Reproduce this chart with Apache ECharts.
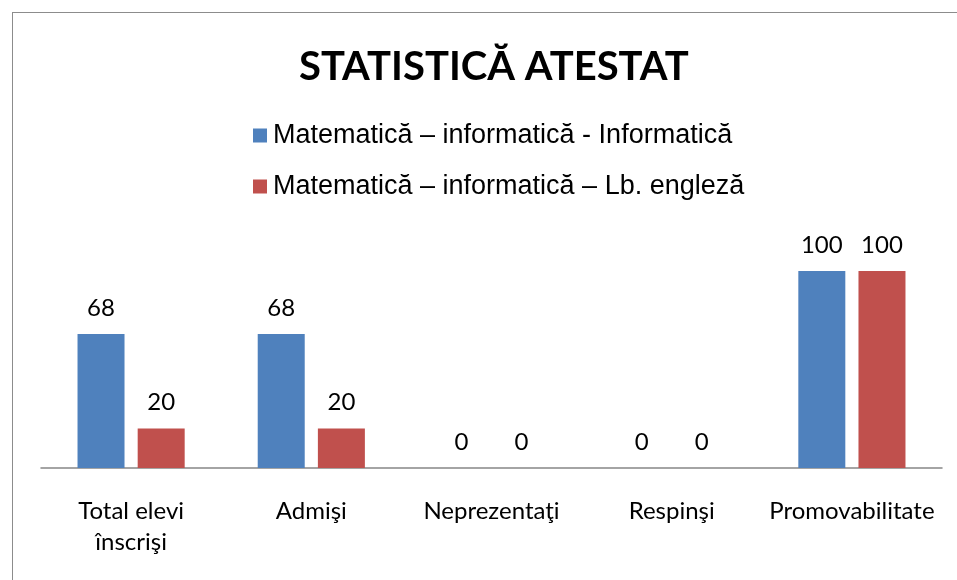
<!DOCTYPE html>
<html><head><meta charset="utf-8">
<script src="https://cdn.jsdelivr.net/npm/echarts@6/dist/echarts.min.js"></script>
<style>html,body{margin:0;padding:0;background:#fff}#c{width:957px;height:580px;position:relative}
#frame{position:absolute;left:12px;top:12px;width:960px;height:600px;border:1.5px solid #8c8c8c;box-sizing:border-box;pointer-events:none}</style>
</head><body><div id="c"></div><div id="frame"></div>
<script>
const categories = ["Total elevi\nînscrişi", "Admişi", "Neprezentaţi", "Respinşi", "Promovabilitate"];
const seriesNames = ["Matematică – informatică - Informatică", "Matematică – informatică – Lb. engleză"];
const informatica = [68, 68, 0, 0, 100];
const engleza = [20, 20, 0, 0, 100];
const titleText = "STATISTICĂ ATESTAT";

const chart = echarts.init(document.getElementById('c'), null, {renderer: 'canvas'});
const lblFont = 'Lato, "Open Sans", sans-serif';
chart.setOption({
  animation: false,
  backgroundColor: '#fff',
  title: {text: titleText, left: 294, top: 42,
    textStyle: {fontFamily: lblFont, fontWeight: 'bold', fontSize: 40, color: '#000'}},
  legend: {orient: 'vertical', left: 248, top: 117, itemGap: 24, itemWidth: 14, itemHeight: 14,
    icon: 'rect', textStyle: {fontFamily: '"Liberation Sans", Arial, sans-serif', fontSize: 27, color: '#000', padding: [0,0,0,1]},
    data: seriesNames},
  grid: {left: 41, right: 15, top: 271, bottom: 112, containLabel: false},
  xAxis: {type: 'category', data: categories,
    axisLine: {lineStyle: {color: '#868686', width: 1.5}},
    axisTick: {show: false},
    axisLabel: {interval: 0, margin: 28, fontFamily: lblFont, fontSize: 24, color: '#000', lineHeight: 31}},
  yAxis: {type: 'value', min: 0, max: 100, show: false, splitLine: {show: false}},
  series: [
    {name: seriesNames[0], type: 'bar', data: informatica, barWidth: 47, barGap: '28%',
     itemStyle: {color: '#4F81BD'},
     label: {show: true, position: 'top', distance: 14, fontFamily: lblFont, fontSize: 24, color: '#000'}},
    {name: seriesNames[1], type: 'bar', data: engleza, barWidth: 47,
     itemStyle: {color: '#C0504D'},
     label: {show: true, position: 'top', distance: 14, fontFamily: lblFont, fontSize: 24, color: '#000'}}
  ]
});
</script></body></html>
